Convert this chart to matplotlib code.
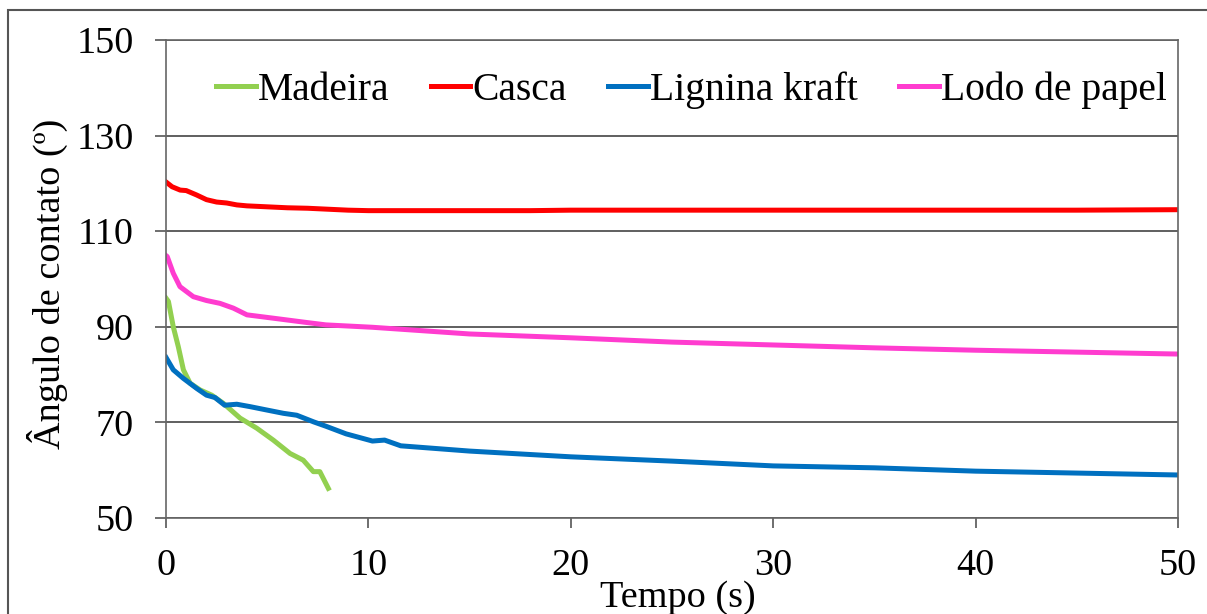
import matplotlib
matplotlib.use("Agg")
import matplotlib.pyplot as plt
from matplotlib.patches import Rectangle

# contact angle vs time
t_madeira = [0.0, 0.12, 0.36, 0.61, 0.86, 1.19, 1.68, 2.26, 2.83, 3.66, 4.48, 5.3, 6.13, 6.78, 7.28, 7.6, 8.02]
madeira = [96.0, 95.3, 90.0, 85.8, 81.0, 78.2, 76.8, 75.7, 74.0, 70.9, 68.8, 66.3, 63.5, 62.1, 59.7, 59.7, 56.2]

t_casca = [0.0, 0.3, 0.7, 1.0, 1.5, 2.0, 2.5, 3.0, 3.5, 4.0, 5.0, 6.0, 7.0, 8.0, 9.0, 10.0,
           12.0, 14.0, 16.0, 18.0, 20.0, 25.0, 30.0, 35.0, 40.0, 45.0, 50.0]
casca = [120.3, 119.3, 118.6, 118.5, 117.6, 116.6, 116.1, 115.9, 115.5, 115.3, 115.1, 114.9, 114.8, 114.6, 114.4, 114.3,
         114.3, 114.3, 114.3, 114.3, 114.4, 114.4, 114.4, 114.4, 114.4, 114.4, 114.5]

t_lignina = [0.0, 0.36, 0.86, 1.52, 2.0, 2.42, 2.9, 3.5, 4.15, 4.97, 5.8, 6.46, 7.3, 7.9, 8.9, 10.2, 10.8, 11.6,
             15.0, 20.0, 25.0, 30.0, 35.0, 40.0, 45.0, 50.0]
lignina = [83.6, 81.0, 79.2, 77.1, 75.7, 75.2, 73.6, 73.8, 73.3, 72.6, 71.9, 71.5, 70.1, 69.2, 67.6, 66.1, 66.3, 65.1,
           64.0, 62.8, 61.9, 60.9, 60.5, 59.8, 59.4, 59.0]

t_lodo = [0.0, 0.06, 0.36, 0.69, 1.35, 2.0, 2.67, 3.33, 4.0, 5.3, 6.95, 7.9, 10.2,
          15.0, 20.0, 25.0, 30.0, 35.0, 40.0, 45.0, 50.0]
lodo = [104.9, 104.7, 101.2, 98.4, 96.3, 95.5, 94.9, 93.9, 92.5, 91.8, 90.9, 90.4, 89.9,
        88.5, 87.7, 86.8, 86.2, 85.6, 85.1, 84.7, 84.3]

x_ticks = [0, 10, 20, 30, 40, 50]
y_ticks = [50, 70, 90, 110, 130, 150]

plt.rcParams["font.family"] = ["Liberation Serif", "DejaVu Serif"]

fig = plt.figure(figsize=(12.07, 6.14), dpi=100)
ax = fig.add_axes([166 / 1207, 1 - 518 / 614, 1012 / 1207, 478 / 614])

# outer frame around the whole chart
fig.patches.append(Rectangle((8 / 1207, -0.2), 1.2, 1.2 - 10 / 614,
                             transform=fig.transFigure, fill=False,
                             edgecolor="#555555", lw=1.5, clip_on=False))

lw = 3.6
ax.plot(t_madeira, madeira, color="#92D050", lw=lw, label="Madeira")
ax.plot(t_casca, casca, color="#FF0000", lw=lw, label="Casca")
ax.plot(t_lignina, lignina, color="#0070C0", lw=lw, label="Lignina kraft")
ax.plot(t_lodo, lodo, color="#FF3CCF", lw=lw, label="Lodo de papel")

ax.set_xlim(0, 50)
ax.set_ylim(50, 150)
ax.set_xticks(x_ticks)
ax.set_yticks(y_ticks)
ax.tick_params(axis="both", labelsize=27.5, color="#555555")
ax.tick_params(axis="x", direction="out", length=7, width=1.2, pad=15)
ax.tick_params(axis="y", direction="out", length=8, width=1.2, pad=15)
ax.grid(axis="y", color="#444444", lw=1.2)
ax.set_axisbelow(True)
for s in ax.spines.values():
    s.set_color("#666666")
    s.set_linewidth(1.2)

ax.set_xlabel("Tempo (s)", fontsize=27.5)
ax.xaxis.set_label_coords(0.506, -0.13)
ax.set_ylabel("Ângulo de contato (º)", fontsize=27.5)
ax.yaxis.set_label_coords(-0.097, 0.49)

ax.legend(loc="center", bbox_to_anchor=(0.519, 0.895), ncol=4, frameon=False,
          fontsize=28.5, handlelength=1.0, handletextpad=0.05, columnspacing=1.05,
          borderaxespad=0)

fig.savefig("out.png", dpi=100)
